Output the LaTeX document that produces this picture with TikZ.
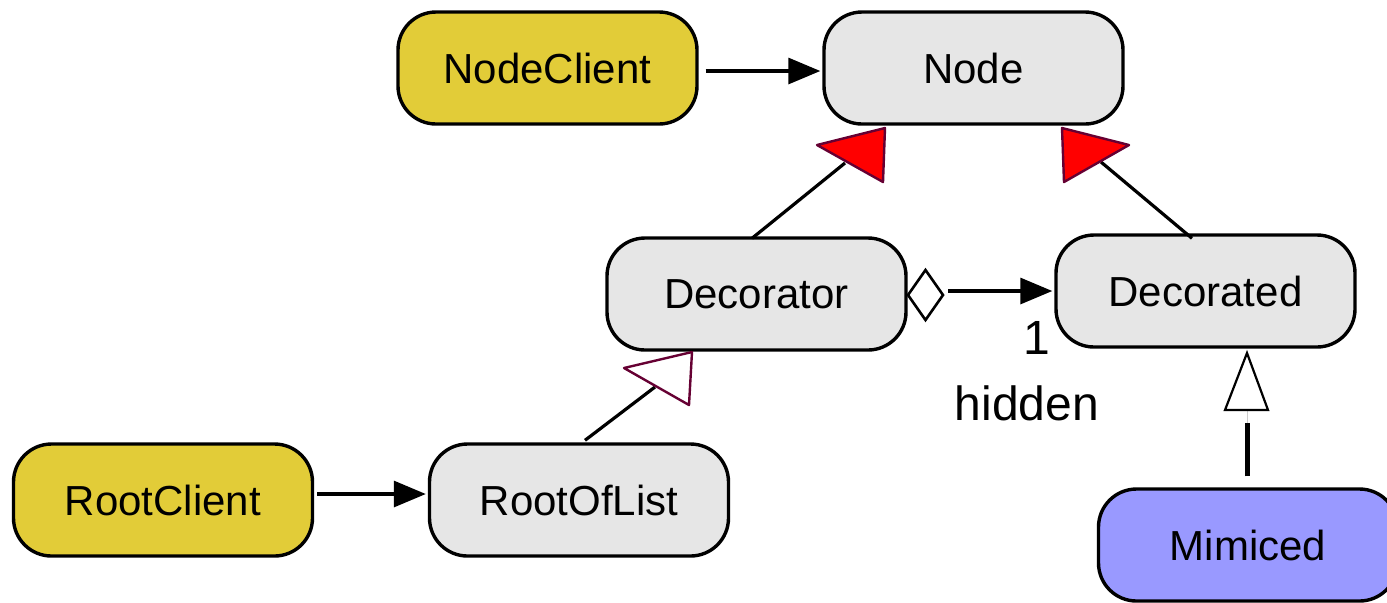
\documentclass[tikz,border=0pt]{standalone}
\usepackage{fontspec}
\setmainfont{Liberation Sans}
\usetikzlibrary{arrows.meta}
\definecolor{clientyellow}{RGB}{226,204,56}
\definecolor{classgray}{RGB}{230,230,230}
\definecolor{mimicblue}{RGB}{153,153,255}
\definecolor{maroon}{RGB}{102,0,51}
\tikzset{
  cls/.style={draw=black, line width=1.7pt, rounded corners=19pt,
    minimum width=149.5pt, minimum height=56pt, inner sep=0pt,
    font=\fontsize{21}{25}\selectfont, fill=classgray},
  client/.style={cls, fill=clientyellow},
  mimic/.style={cls, fill=mimicblue},
  assoc/.style={draw=black, line width=1.6pt, -{Triangle[length=16pt,width=13pt]}},
  link/.style={draw=black, line width=1.6pt},
  redhead/.style={fill=red, draw=maroon, line width=1.2pt, line join=round},
  hollowhead/.style={fill=white, draw=maroon, line width=1.2pt, line join=round},
  label/.style={font=\fontsize{24}{28}\selectfont, inner sep=0pt}
}
\begin{document}
\begin{tikzpicture}[x=0.5pt, y=-0.5pt]
\useasboundingbox (0,0) rectangle (1387,602);

% classes
\node[client] (nc)   at (547.5,68)  {NodeClient};
\node[cls]    (node) at (973.5,68)  {Node};
\node[cls]    (dec)  at (756.5,294) {Decorator};
\node[cls]    (deco) at (1205.5,291) {Decorated};
\node[client] (rc)   at (163,500)   {RootClient};
\node[cls]    (rol)  at (579,500)   {RootOfList};
\node[mimic]  (mim)  at (1248,545)  {Mimiced};

% plain associations
\draw[assoc] ([shift={(7,3)}]nc.east) -- ([shift={(-2,3)}]node.west);
\draw[assoc] ([shift={(3,-6)}]rc.east) -- ([shift={(-2,-6)}]rol.west);

% Decorator / Decorated generalisations to Node
\coordinate (g1) at (845,163);
\coordinate (g2) at (1101,162);
\draw[link] ([shift={(-4.5,2)}]dec.north) -- (g1);
\draw[link] ([shift={(-13.5,5)}]deco.north) -- (g2);
\draw[redhead] (817,145) -- (885,128) -- (883,182) -- cycle;
\draw[redhead] (1062,128) -- (1129,145) -- (1064,182) -- cycle;

% RootOfList generalises Decorator
\coordinate (g3) at (655,387);
\draw[link] ([shift={(6,-2)}]rol.north) -- (g3);
\draw[hollowhead] (624,368) -- (692,352) -- (689,405) -- cycle;

% aggregation Decorator -> Decorated
\draw[line width=1.3pt, fill=white, line join=miter]
  (908,295) -- (925.5,270) -- (943,295) -- (925.5,320) -- cycle;
\draw[assoc] (948,291) -- ([shift={(-2,0)}]deco.west);
\node[label] (mult) at (1037,338) {1};
\node[label] (role) at (1027,403) {hidden};

% Mimiced realises Decorated
\coordinate (m1) at (1247,423);
\coordinate (m2) at (1247,410);
\draw[line width=2.5pt] ([shift={(-1,-11)}]mim.north) -- (m1);
\draw[line width=0.4pt, gray!40] (m1) -- (m2);
\draw[line width=1.1pt, fill=white, line join=miter]
  (1247,353) -- (1268,410) -- (1225,410) -- cycle;
\end{tikzpicture}
\end{document}
